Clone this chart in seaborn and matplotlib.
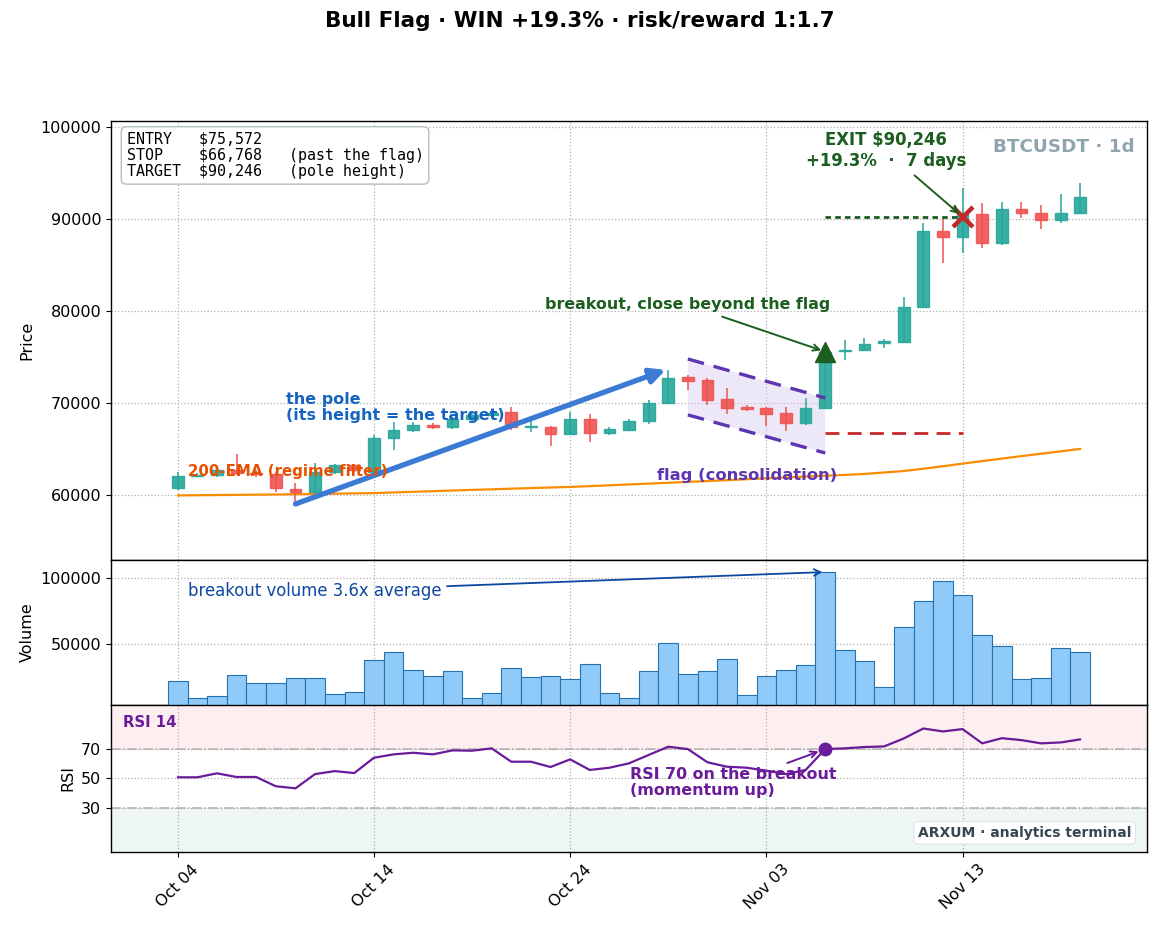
import numpy as np
import pandas as pd
import matplotlib
matplotlib.use("Agg")
import matplotlib.pyplot as plt
import matplotlib.dates as mdates
import seaborn as sns
from matplotlib.patches import Polygon

sns.set_style("ticks")
plt.rcParams['font.family'] = ['DejaVu Sans']
plt.rcParams.update({'text.color': 'black', 'axes.labelcolor': 'black',
                     'xtick.color': 'black', 'ytick.color': 'black'})

# ---------------- data ----------------
dates = pd.date_range("2024-10-04", periods=47, freq="D")
opens = [60760, 62070, 62150, 62700, 62350, 62250, 60700, 60350, 62500, 63250,
         62500, 66200, 67050, 67650, 67400, 68250, 68650, 69000, 67350, 67400,
         66650, 68250, 66750, 67050, 68050, 70000, 72800, 72500, 70400, 69550,
         69450, 68900, 67850, 69450, 75700, 75800, 76500, 76650, 80450, 88700,
         88050, 90550, 87400, 91100, 90650, 89900, 90650]
highs = [62500, 62400, 62900, 64500, 62700, 62450, 61250, 63500, 63400, 63350,
         66500, 67900, 67900, 67800, 68500, 68900, 69300, 69600, 68000, 67500,
         69000, 68800, 67400, 68300, 70300, 73600, 73000, 72700, 71600, 69750,
         69550, 69550, 70500, 75900, 76800, 77100, 76900, 81500, 89600, 90100,
         93350, 91750, 91850, 91850, 91500, 92700, 93900]
lows = [60540, 61900, 61950, 62200, 62000, 60350, 59100, 60200, 62300, 62500,
        62300, 64900, 66800, 67200, 67200, 68000, 68300, 67050, 66800, 65300,
        66500, 65750, 66500, 66900, 67700, 69900, 71400, 69800, 68800, 69150,
        67500, 66950, 67600, 69400, 74700, 75700, 76000, 76500, 80300, 85200,
        86300, 86850, 87200, 90100, 88900, 89550, 90550]
closes = [62070, 62150, 62700, 62350, 62250, 60760, 60350, 62500, 63250, 62700,
          66200, 67050, 67650, 67400, 68250, 68650, 68950, 67400, 67500, 66650,
          68250, 66750, 67150, 68050, 70000, 72700, 72350, 70300, 69450, 69350,
          68800, 67850, 69450, 75572, 75800, 76400, 76700, 80450, 88700, 88050,
          90550, 87400, 91100, 90650, 89900, 90650, 92400]
ema200 = [59950, 59970, 59990, 60010, 60030, 60050, 60080, 60110, 60140, 60170,
          60200, 60270, 60340, 60410, 60480, 60550, 60610, 60680, 60740, 60810,
          60870, 60960, 61050, 61140, 61230, 61320, 61420, 61510, 61610, 61710,
          61810, 61900, 61990, 62090, 62180, 62280, 62440, 62600, 62850, 63120,
          63400, 63680, 63950, 64220, 64480, 64740, 65000]
volume = [21500, 8500, 10000, 26200, 20000, 20000, 23900, 23900, 11500, 12700,
          37700, 43800, 30000, 25400, 29200, 8500, 12300, 31500, 24600, 25400,
          23100, 34600, 12300, 8500, 29200, 50700, 26900, 29200, 38500, 10800,
          25400, 30000, 33800, 104600, 45400, 36900, 16900, 62300, 82300, 97700,
          86900, 56900, 48500, 23100, 23800, 46900, 43800]
rsi = [50.8, 50.8, 53.5, 51.0, 51.0, 44.7, 43.3, 53.0, 55.0, 53.7,
       64.1, 66.4, 67.5, 66.4, 69.1, 68.9, 70.5, 61.4, 61.4, 57.8,
       63.0, 55.8, 57.3, 60.3, 66.0, 71.6, 70.0, 61.0, 58.0, 57.3,
       55.3, 53.0, 55.8, 70.0, 70.5, 71.4, 71.8, 77.2, 84.0, 82.0,
       83.6, 73.9, 77.4, 76.1, 73.9, 74.5, 76.6]

entry_price = 75572
stop_price = 66768
target_price = 90246
pole_low = 59020
breakout_idx = 33
exit_idx = 40
pole_start_idx = 6
pole_end_idx = 25
flag_start_idx = 26
flag_upper = [74780, 70540]
flag_lower = [68700, 64560]
tick_idx = [0, 10, 20, 30, 40]

# ---------------- figure ----------------
GREEN = '#26a69a'
RED = '#ef5350'

x = mdates.date2num(dates)
o = np.array(opens); c = np.array(closes); h = np.array(highs); l = np.array(lows)

fig = plt.figure(figsize=(11.6, 9.3), dpi=100)
gs = fig.add_gridspec(3, 1, height_ratios=[439, 145, 147], hspace=0,
                      left=0.0957, right=0.9888, top=0.8699, bottom=0.0839)
ax = fig.add_subplot(gs[0])
axv = fig.add_subplot(gs[1], sharex=ax)
axr = fig.add_subplot(gs[2], sharex=ax)

for a in (ax, axv, axr):
    a.grid(True, linestyle=':', color='#b0b0b0', linewidth=0.9)
    a.set_axisbelow(True)
    for s in a.spines.values():
        s.set_color('black')
        s.set_linewidth(1.0)
    a.tick_params(labelsize=11.5, direction='out', length=3.5, color='black')

# EMA
sns.lineplot(x=x, y=ema200, ax=ax, color='#fb8c00', lw=1.6, zorder=2)

# candles
up = c >= o
cols = np.where(up, GREEN, RED)
ax.vlines(x, l, h, color=cols, lw=1.3, alpha=0.85, zorder=3)
body = np.maximum(np.abs(c - o), 90)
ax.bar(x, body, bottom=np.minimum(o, c), width=0.6, color=cols, edgecolor=cols,
       linewidth=1.0, alpha=0.9, zorder=4)

# flag
fx = [x[flag_start_idx], x[breakout_idx]]
poly = Polygon([(fx[0], flag_upper[0]), (fx[1], flag_upper[1]),
                (fx[1], flag_lower[1]), (fx[0], flag_lower[0])],
               closed=True, facecolor='#d9cdf0', alpha=0.45, edgecolor='none', zorder=1)
ax.add_patch(poly)
ax.plot(fx, flag_upper, color='#5e35b1', lw=2.4, ls=(0, (5, 3)), zorder=5)
ax.plot(fx, flag_lower, color='#5e35b1', lw=2.4, ls=(0, (5, 3)), zorder=5)
ax.text((fx[0] + fx[1]) / 2 - 0.5, 62070, 'flag (consolidation)', color='#5e35b1',
        fontsize=11.8, fontweight='bold', ha='center', va='center', zorder=6)

# pole
ax.annotate('', xy=(x[pole_end_idx], pole_low + (target_price - entry_price)),
            xytext=(x[pole_start_idx], pole_low),
            arrowprops=dict(arrowstyle='-|>', color='#3b7bd4', lw=3.8,
                            mutation_scale=22, shrinkA=0, shrinkB=2), zorder=6)
ax.text(x[0] + 5.5, 69500, 'the pole\n(its height = the target)', color='#1565c0',
        fontsize=11.5, fontweight='bold', ha='left', va='center', zorder=7,
        linespacing=1.1)

# EMA label
ax.text(x[0] + 0.5, 62500, '200-EMA (regime filter)', color='#e65100', fontsize=10.8,
        fontweight='bold', ha='left', va='center', zorder=7)

# stop / target lines
ax.plot([x[breakout_idx], x[exit_idx]], [stop_price, stop_price], color='#c62828',
        lw=2.0, ls=(0, (5, 3)), zorder=5)
ax.plot([x[breakout_idx], x[exit_idx]], [target_price, target_price], color='#1b5e20',
        lw=2.0, ls=(0, (2, 1.5)), zorder=5)

# markers
ax.plot(x[breakout_idx], entry_price, marker='^', color='#1b5e20', markersize=15, zorder=8)
ax.plot(x[exit_idx], target_price, marker='x', color='#c62828', markersize=14,
        markeredgewidth=3.2, zorder=8)

ax.annotate('breakout, close beyond the flag', xy=(x[breakout_idx], entry_price),
            xytext=(x[26], 80650), color='#1b5e20', fontsize=11.4, fontweight='bold',
            ha='center', va='center',
            arrowprops=dict(arrowstyle='->', color='#1b5e20', lw=1.4, shrinkB=3), zorder=9)
ax.annotate('EXIT $90,246\n+19.3%  ·  7 days', xy=(x[exit_idx], target_price),
            xytext=(x[0] + 36.1, 97400), color='#1b5e20', fontsize=11.9, fontweight='bold',
            ha='center', va='center', linespacing=1.2,
            arrowprops=dict(arrowstyle='->', color='#1b5e20', lw=1.4, shrinkB=3), zorder=9)

ax.text(0.988, 0.94, 'BTCUSDT · 1d', transform=ax.transAxes, color='#90a4ae',
        fontsize=13.2, fontweight='bold', ha='right', va='center')

info = ("ENTRY   $75,572\n"
        "STOP    $66,768   (past the flag)\n"
        "TARGET  $90,246   (pole height)")
ax.text(0.015, 0.975, info, transform=ax.transAxes, family='DejaVu Sans Mono',
        fontsize=10.8, ha='left', va='top', linespacing=1.08,
        bbox=dict(boxstyle='round,pad=0.35', facecolor='white', edgecolor='#b0bec5', lw=1.0))

ax.set_ylim(52930, 100650)
ax.set_yticks([60000, 70000, 80000, 90000, 100000])
ax.set_ylabel('Price', fontsize=11.5)
ax.tick_params(labelbottom=False)

# ---------------- volume ----------------
axv.bar(x, volume, width=1.0, color='#90caf9', edgecolor='#2471b0', linewidth=0.8, zorder=3)
axv.set_ylim(3100, 113800)
axv.set_yticks([50000, 100000])
axv.set_ylabel('Volume', fontsize=11.5)
axv.tick_params(labelbottom=False)
axv.annotate('breakout volume 3.6x average', xy=(x[breakout_idx], volume[breakout_idx]),
             xytext=(x[0] + 0.5, 90000), color='#0d47a1', fontsize=11.9,
             ha='left', va='center',
             arrowprops=dict(arrowstyle='->', color='#0d47a1', lw=1.3, shrinkB=2), zorder=9)

# ---------------- RSI ----------------
axr.axhspan(70, 100, color='#fdeff0', zorder=0)
axr.axhspan(0, 30, color='#eef7f6', zorder=0)
axr.axhline(70, color='#b0b0b0', ls='-.', lw=1.1, zorder=1)
axr.axhline(30, color='#b0b0b0', ls='-.', lw=1.1, zorder=1)
sns.lineplot(x=x, y=rsi, ax=axr, color='#6a1b9a', lw=1.6, zorder=3)
axr.plot(x[breakout_idx], rsi[breakout_idx], 'o', color='#6a1b9a', markersize=9, zorder=4)
axr.annotate('RSI 70 on the breakout\n(momentum up)', xy=(x[breakout_idx], rsi[breakout_idx]),
             xytext=(x[0] + 23.06, 47), color='#6a1b9a', fontsize=11.4, fontweight='bold',
             ha='left', va='center', linespacing=1.1,
             arrowprops=dict(arrowstyle='->', color='#6a1b9a', lw=1.4, shrinkB=5), zorder=5)
axr.text(0.012, 0.88, 'RSI 14', transform=axr.transAxes, color='#6a1b9a',
         fontsize=10.7, fontweight='bold', ha='left', va='center')
axr.text(0.985, 0.13, 'ARXUM · analytics terminal', transform=axr.transAxes,
         color='#37474f', fontsize=10, fontweight='bold', ha='right', va='center',
         bbox=dict(boxstyle='round,pad=0.3', facecolor='white', edgecolor='#dfe3e6', lw=0.8))
axr.set_ylim(0, 100)
axr.set_yticks([30, 50, 70])
axr.set_ylabel('RSI', fontsize=11.5)

axr.set_xlim(x[0] - 3.4, x[0] + 49.4)
axr.set_xticks(x[tick_idx])
axr.xaxis.set_major_formatter(mdates.DateFormatter('%b %d'))
for lab in axr.get_xticklabels():
    lab.set_rotation(45)
    lab.set_ha('center')

fig.suptitle('Bull Flag · WIN +19.3% · risk/reward 1:1.7', fontsize=15.5,
             fontweight='bold', y=0.988, color='black')

fig.savefig('out.png', dpi=100)
